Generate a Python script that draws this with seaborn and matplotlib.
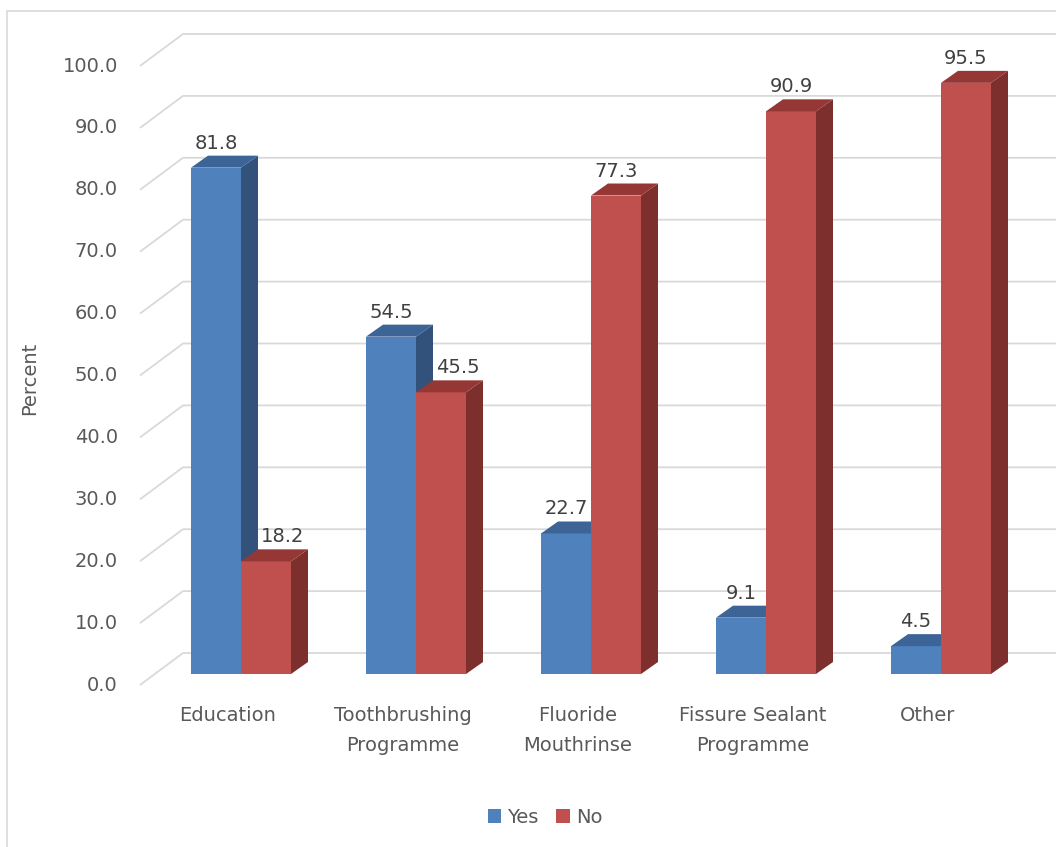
import numpy as np
import pandas as pd
import seaborn as sns
import matplotlib.pyplot as plt
from matplotlib.patches import Polygon, Rectangle, Patch

# ---- data ----
categories = ["Education", "Toothbrushing\nProgramme", "Fluoride\nMouthrinse",
              "Fissure Sealant\nProgramme", "Other"]
series = ["Yes", "No"]
yes_values = [81.8, 54.5, 22.7, 9.1, 4.5]
no_values = [18.2, 45.5, 77.3, 90.9, 95.5]
y_ticks = list(range(0, 101, 10))
y_label = "Percent"

# ---- style ----
sns.set_theme(style="white")
plt.rcParams['font.family'] = ['DejaVu Sans']
FS = 14
front_col = {"Yes": "#4F81BD", "No": "#C0504D"}
top_col = {"Yes": "#3D6497", "No": "#943735"}
side_col = {"Yes": "#32527C", "No": "#7C2F2D"}
grid_col = "#D9D9D9"
tick_col = "#595959"
val_col = "#404040"

W, H = 1056, 847
PXX = 175.0      # pixels per category unit
PXY = 6.19       # pixels per percent
X0PX = 241.0     # pixel column of first group centre
Y0PX = 674.0     # pixel row of zero on bar front plane
DEPTH_X, DEPTH_Y = 17, 12

def px(col):
    return (col - X0PX) / PXX

def py(row):
    return (Y0PX - row) / PXY

def dxp(p):
    return p / PXX

def dyp(p):
    return p / PXY

fig = plt.figure(figsize=(W / 100, H / 100), dpi=100)
ax = fig.add_axes([0, 0, 1, 1])

df = pd.DataFrame({
    "Category": categories * 2,
    "Series": ["Yes"] * len(categories) + ["No"] * len(categories),
    "Percent": yes_values + no_values,
})
sns.barplot(data=df, x="Category", y="Percent", hue="Series", hue_order=series,
            palette=front_col, width=100 / 175, saturation=1, linewidth=0,
            legend=False, ax=ax)

ax.set_xlim(px(0), px(W))
ax.set_ylim(py(H), py(0))
ax.axis("off")

# 3D faces of the bars
for k, (name, cont) in enumerate(zip(series, ax.containers)):
    z = 3 + k
    for bar in cont:
        x0, w, h = bar.get_x(), bar.get_width(), bar.get_height()
        bar.set_zorder(z)
        ddx, ddy = dxp(DEPTH_X), dyp(DEPTH_Y)
        side = Polygon([(x0 + w, 0), (x0 + w, h), (x0 + w + ddx, h + ddy), (x0 + w + ddx, ddy)],
                       closed=True, facecolor=side_col[name], edgecolor="none", zorder=z)
        top = Polygon([(x0, h), (x0 + w, h), (x0 + w + ddx, h + ddy), (x0 + ddx, h + ddy)],
                      closed=True, facecolor=top_col[name], edgecolor="none", zorder=z)
        ax.add_patch(side)
        ax.add_patch(top)

# value labels
yes_bars = list(ax.containers[0])
no_bars = list(ax.containers[1])
for i in range(len(categories)):
    b = yes_bars[i]
    ax.text(b.get_x() + b.get_width() / 2, b.get_height() + dyp(DEPTH_Y + 7),
            f"{yes_values[i]:.1f}", ha="center", va="baseline", fontsize=FS,
            color=val_col, zorder=10)
    b = no_bars[i]
    shift = dxp(DEPTH_X) if no_values[i] < yes_values[i] else 0
    ax.text(b.get_x() + b.get_width() / 2 + shift, b.get_height() + dyp(DEPTH_Y + 7),
            f"{no_values[i]:.1f}", ha="center", va="baseline", fontsize=FS,
            color=val_col, zorder=10)

# perspective gridlines + y tick labels
for v in y_ticks:
    ax.plot([px(140), px(183), px(W + 10)],
            [v - dyp(11), v + dyp(21), v + dyp(21)],
            color=grid_col, lw=1.3, zorder=1, solid_capstyle="butt")
    ax.text(px(118), v - dyp(11), f"{v:.1f}", ha="right", va="center",
            fontsize=FS, color=tick_col)

# category labels
for i, c in enumerate(categories):
    ax.text(i - dxp(13), py(706), c, ha="center", va="top", fontsize=FS,
            color=tick_col, linespacing=1.7)

# axis title
ax.text(px(30), py(378), y_label, rotation=90, ha="center", va="center",
        fontsize=FS, color=tick_col)

# legend
handles = [Patch(facecolor=front_col[s], edgecolor="none") for s in series]
leg = fig.legend(handles, series, loc="center", bbox_to_anchor=(545 / W, 1 - 817 / H),
                 ncol=2, frameon=False, fontsize=FS, handlelength=0.7, handleheight=0.7,
                 handletextpad=0.3, columnspacing=0.9)
for t in leg.get_texts():
    t.set_color(tick_col)

# chart border
fig.add_artist(Rectangle((7 / W, -0.1), 1.2, (1 - 11 / H) + 0.1, transform=fig.transFigure,
                         fill=False, edgecolor=grid_col, lw=1.2))

fig.savefig("out.png", dpi=100, facecolor="white")
